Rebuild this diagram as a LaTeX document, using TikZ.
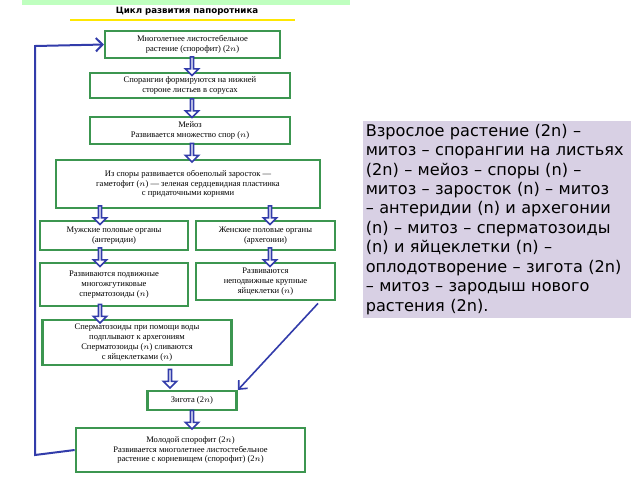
\documentclass[tikz,border=0pt]{standalone}
\usepackage{fontspec}
\setmainfont{Liberation Serif}
\newfontfamily\dejavu{DejaVu Sans}
\usetikzlibrary{shapes.arrows,arrows.meta}
\definecolor{boxgreen}{RGB}{60,150,80}
\definecolor{arrblue}{RGB}{50,60,170}
\definecolor{lav}{RGB}{216,208,228}
\tikzset{every picture/.style={line width=0.75pt}}
\tikzset{
  stage/.style={draw=boxgreen,line width=1.8pt,fill=white,align=center,inner sep=1pt,
    font=\fontsize{6.4}{7.3}\selectfont},
  down/.style={single arrow,draw=arrblue,fill=white,line width=1.2pt,shape border rotate=270,
    minimum height=14pt,minimum width=10pt,single arrow head extend=2pt,inner sep=0pt}
}
\begin{document}
\begin{tikzpicture}[x=0.75pt,y=0.75pt,yscale=-1,xscale=1]
\useasboundingbox (0,0) rectangle (640,480);
% title
\fill[green!25] (22,0) rectangle (350,5);
\node (title) at (187,11) {\dejavu\fontsize{6.5}{8}\selectfont\bfseries Цикл развития папоротника};
\draw[yellow!90!orange,line width=2pt] (70,20) -- (295,20);
% stages
\node[stage,minimum width=131pt,minimum height=20pt] (sporophyte) at (192.5,44.5) {Многолетнее листостебельное\\растение (спорофит) (2$n$)};
\node[stage,minimum width=150pt,minimum height=19pt] (sporangia) at (190,85.5) {Спорангии формируются на нижней\\стороне листьев в сорусах};
\node[stage,minimum width=150pt,minimum height=20pt] (meiosis) at (190,130.5) {Мейоз\\Развивается множество спор ($n$)};
\node[stage,minimum width=198pt,minimum height=36pt] (prothallus) at (188,184) {Из споры развивается обоеполый заросток —\\гаметофит ($n$) — зеленая сердцевидная пластинка\\с придаточными корнями};
\node[stage,minimum width=111pt,minimum height=22pt] (antheridia) at (114,235.5) {Мужские половые органы\\(антеридии)};
\node[stage,minimum width=104pt,minimum height=22pt] (archegonia) at (265.5,235.5) {Женские половые органы\\(архегонии)};
\node[stage,minimum width=111pt,minimum height=32pt] (sperm) at (114,284.5) {Развиваются подвижные\\многожгутиковые\\сперматозоиды ($n$)};
\node[stage,minimum width=104pt,minimum height=28pt] (eggs) at (265.5,281.5) {Развиваются\\неподвижные крупные\\яйцеклетки ($n$)};
\node[stage,minimum width=142pt,minimum height=34pt] (fusion) at (137,342.5) {Сперматозоиды при помощи воды\\подплывают к архегониям\\Сперматозоиды ($n$) сливаются\\с яйцеклетками ($n$)};
\node[stage,minimum width=67pt,minimum height=14pt] (zygote) at (192,400.5) {Зигота (2$n$)};
\node[stage,minimum width=172pt,minimum height=33pt] (young) at (190.5,450) {Молодой спорофит (2$n$)\\Развивается многолетнее листостебельное\\растение с корневищем (спорофит) (2$n$)};
% hollow arrows
\node[down] (a1) at (192,65.5) {};
\node[down] (a2) at (192,107.5) {};
\node[down] (a3) at (192,152) {};
\node[down] (a4) at (100,214.5) {};
\node[down] (a5) at (270,214.5) {};
\node[down] (a6) at (100,256.5) {};
\node[down] (a7) at (270,256.5) {};
\node[down] (a8) at (100,313) {};
\node[down] (a9) at (170,378) {};
\node[down] (a10) at (192,419) {};
% connectors
\draw[arrblue,line width=1.2pt,-{Straight Barb[length=5pt,width=9pt]}] (eggs.south east) ++(-18,2) coordinate (eggfoot) (eggfoot) -- (zygote.north east);
\draw[arrblue,line width=1.5pt,-{Straight Barb[length=5pt,width=10pt]}] (young.west) -- (35,455) -- (35,46) -- (sporophyte.west);
% summary
\node[fill=lav,text width=196pt,align=left,inner sep=2.5pt,anchor=north west,
  font=\dejavu\fontsize{12.1}{14.6}\selectfont] (summary) at (362,120) {Взрослое растение (2n) – митоз – спорангии на листьях (2n) – мейоз – споры (n) – митоз – заросток (n) – митоз – антеридии (n) и архегонии (n) – митоз – сперматозоиды (n) и яйцеклетки (n) – оплодотворение – зигота (2n) – митоз – зародыш нового растения (2n).};
\end{tikzpicture}
\end{document}
